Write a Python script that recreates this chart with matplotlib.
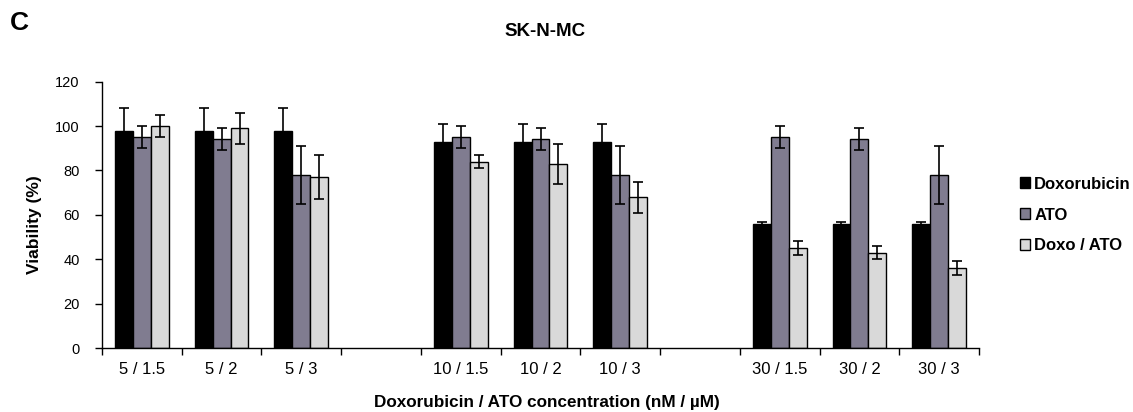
import matplotlib
matplotlib.use("Agg")
import matplotlib.pyplot as plt
import numpy as np
from matplotlib.patches import Patch

plt.rcParams['font.family'] = ['Liberation Sans', 'DejaVu Sans']

categories = ['5 / 1.5', '5 / 2', '5 / 3', '', '10 / 1.5', '10 / 2', '10 / 3', '',
              '30 / 1.5', '30 / 2', '30 / 3']
nan = np.nan
doxo = [98, 98, 98, nan, 93, 93, 93, nan, 56, 56, 56]
doxo_err = [10, 10, 10, nan, 8, 8, 8, nan, 1, 1, 1]
ato = [95, 94, 78, nan, 95, 94, 78, nan, 95, 94, 78]
ato_err = [5, 5, 13, nan, 5, 5, 13, nan, 5, 5, 13]
combo = [100, 99, 77, nan, 84, 83, 68, nan, 45, 43, 36]
combo_err = [5, 7, 10, nan, 3, 9, 7, nan, 3, 3, 3]

series_names = ['Doxorubicin', 'ATO', 'Doxo / ATO']
colors = ['#000000', '#807C90', '#D9D9D9']

fig = plt.figure(figsize=(11.33, 4.12), dpi=100)
ax = fig.add_axes([102/1133, 1-348/412, (979-102)/1133, (348-81.7)/412])

x = np.arange(len(categories))
w = 0.225
for i, (vals, errs, c) in enumerate(zip([doxo, ato, combo], [doxo_err, ato_err, combo_err], colors)):
    pos = x + (i - 1) * w
    ax.bar(pos, vals, width=w, color=c, edgecolor='black', linewidth=1.0, zorder=2)
    ax.errorbar(pos, vals, yerr=errs, fmt='none', ecolor='black', elinewidth=1.2,
                capsize=3.5, capthick=1.2, zorder=3)

ax.set_xlim(-0.5, len(categories) - 0.5)
ax.set_ylim(0, 120)
ax.set_yticks(np.arange(0, 121, 20))
ax.tick_params(axis='y', labelsize=10.5, length=5, width=1, direction='out', pad=11)

ax.set_xticks(np.arange(-0.5, len(categories), 1.0))
ax.set_xticklabels([])
ax.tick_params(axis='x', which='major', length=5, width=1, direction='out')
ax.set_xticks(x, minor=True)
ax.set_xticklabels(categories, minor=True, fontsize=12)
ax.tick_params(axis='x', which='minor', length=0, pad=10)

for s in ['top', 'right']:
    ax.spines[s].set_visible(False)
for s in ['left', 'bottom']:
    ax.spines[s].set_linewidth(1.0)
    ax.spines[s].set_color('black')

fig.text(35/1133, 1-225/412, 'Viability (%)', rotation=90, ha='center', va='center',
         fontsize=12.5, fontweight='bold')
fig.text(547/1133, 1-403/412, 'Doxorubicin / ATO concentration (nM / µM)',
         ha='center', va='center', fontsize=12.3, fontweight='bold')

fig.text(545/1133, 1-32/412, 'SK-N-MC', ha='center', va='center', fontsize=13.5, fontweight='bold')
fig.text(19/1133, 1-23/412, 'C', ha='center', va='center', fontsize=19, fontweight='bold')

handles = [Patch(facecolor=c, edgecolor='black', linewidth=1.0) for c in colors]
leg = fig.legend(handles, series_names, loc='center left',
                 bbox_to_anchor=(1020/1133, 1-215/412), frameon=False,
                 handlelength=0.6, handleheight=0.6, handletextpad=0.25,
                 labelspacing=0.95, borderaxespad=0, borderpad=0,
                 prop={'size': 12, 'weight': 'bold'})

fig.savefig('out.png', dpi=100)
